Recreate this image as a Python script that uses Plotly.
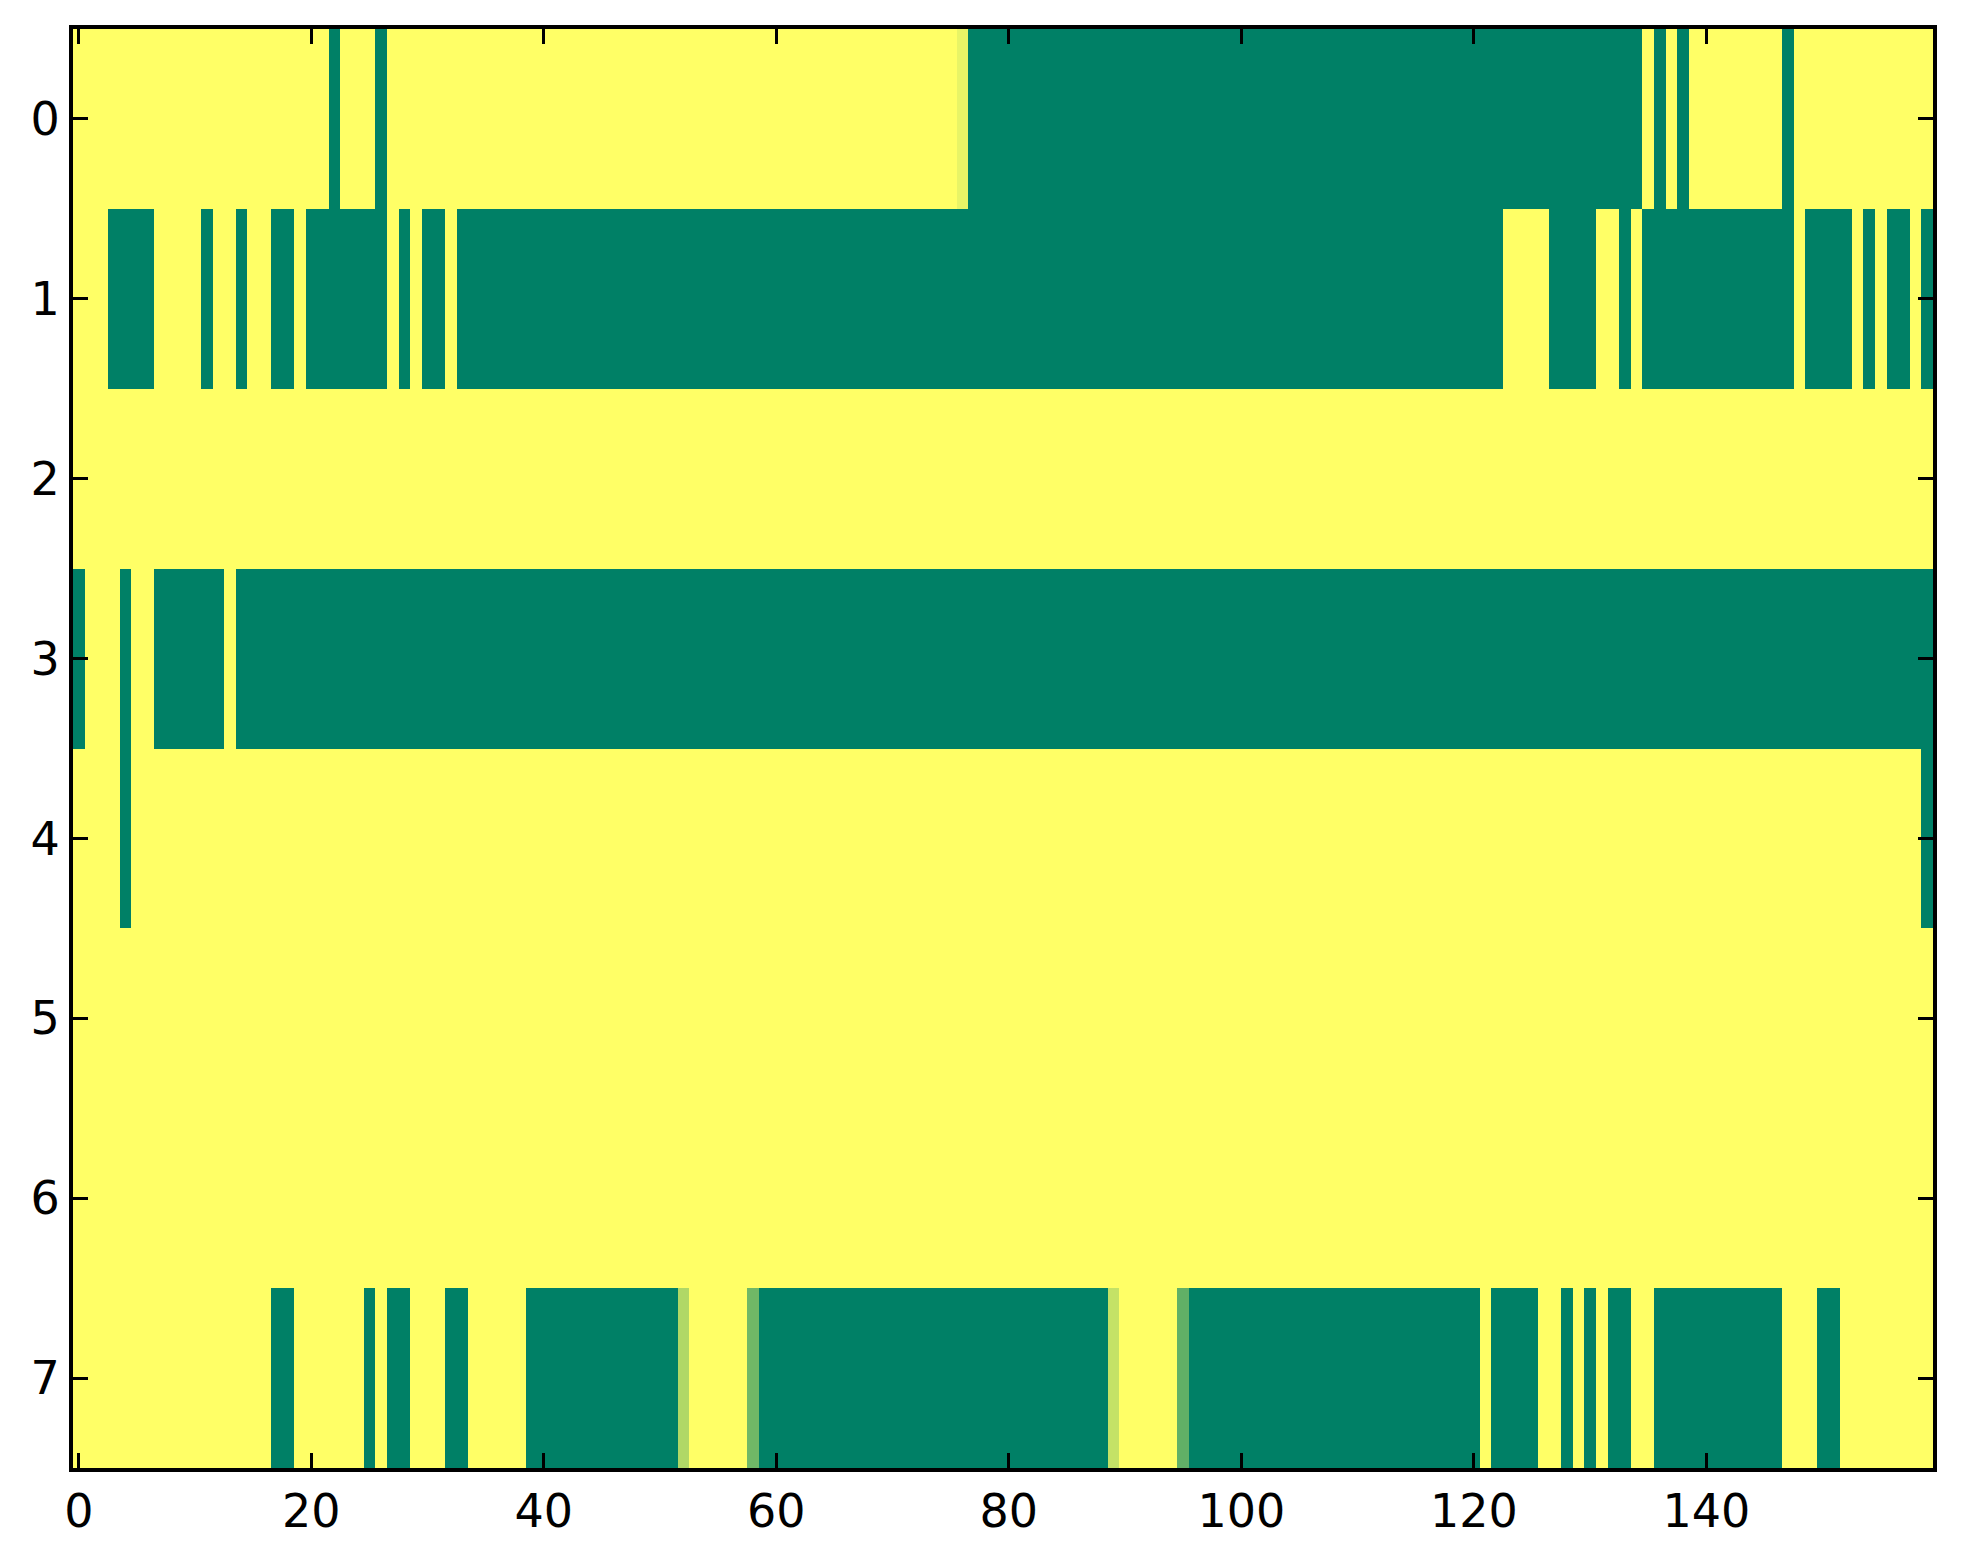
import plotly.graph_objects as go

# 8 rows x 160 columns (1 = yellow / high, 0 = green / low)
row0 = [1, 1, 1, 1, 1, 1, 1, 1, 1, 1, 1, 1, 1, 1, 1, 1, 1, 1, 1, 1,
        1, 1, 0, 1, 1, 1, 0, 1, 1, 1, 1, 1, 1, 1, 1, 1, 1, 1, 1, 1,
        1, 1, 1, 1, 1, 1, 1, 1, 1, 1, 1, 1, 1, 1, 1, 1, 1, 1, 1, 1,
        1, 1, 1, 1, 1, 1, 1, 1, 1, 1, 1, 1, 1, 1, 1, 1, 0.91, 0, 0, 0,
        0, 0, 0, 0, 0, 0, 0, 0, 0, 0, 0, 0, 0, 0, 0, 0, 0, 0, 0, 0,
        0, 0, 0, 0, 0, 0, 0, 0, 0, 0, 0, 0, 0, 0, 0, 0, 0, 0, 0, 0,
        0, 0, 0, 0, 0, 0, 0, 0, 0, 0, 0, 0, 0, 0, 0, 1, 0, 1, 0, 1,
        1, 1, 1, 1, 1, 1, 1, 0, 1, 1, 1, 1, 1, 1, 1, 1, 1, 1, 1, 1]

row1 = [1, 1, 1, 0, 0, 0, 0, 1, 1, 1, 1, 0, 1, 1, 0, 1, 1, 0, 0, 1,
        0, 0, 0, 0, 0, 0, 0, 1, 0, 1, 0, 0, 1, 0, 0, 0, 0, 0, 0, 0,
        0, 0, 0, 0, 0, 0, 0, 0, 0, 0, 0, 0, 0, 0, 0, 0, 0, 0, 0, 0,
        0, 0, 0, 0, 0, 0, 0, 0, 0, 0, 0, 0, 0, 0, 0, 0, 0, 0, 0, 0,
        0, 0, 0, 0, 0, 0, 0, 0, 0, 0, 0, 0, 0, 0, 0, 0, 0, 0, 0, 0,
        0, 0, 0, 0, 0, 0, 0, 0, 0, 0, 0, 0, 0, 0, 0, 0, 0, 0, 0, 0,
        0, 0, 0, 1, 1, 1, 1, 0, 0, 0, 0, 1, 1, 0, 1, 0, 0, 0, 0, 0,
        0, 0, 0, 0, 0, 0, 0, 0, 1, 0, 0, 0, 0, 1, 0, 1, 0, 0, 1, 0]

row2 = [1, 1, 1, 1, 1, 1, 1, 1, 1, 1, 1, 1, 1, 1, 1, 1, 1, 1, 1, 1,
        1, 1, 1, 1, 1, 1, 1, 1, 1, 1, 1, 1, 1, 1, 1, 1, 1, 1, 1, 1,
        1, 1, 1, 1, 1, 1, 1, 1, 1, 1, 1, 1, 1, 1, 1, 1, 1, 1, 1, 1,
        1, 1, 1, 1, 1, 1, 1, 1, 1, 1, 1, 1, 1, 1, 1, 1, 1, 1, 1, 1,
        1, 1, 1, 1, 1, 1, 1, 1, 1, 1, 1, 1, 1, 1, 1, 1, 1, 1, 1, 1,
        1, 1, 1, 1, 1, 1, 1, 1, 1, 1, 1, 1, 1, 1, 1, 1, 1, 1, 1, 1,
        1, 1, 1, 1, 1, 1, 1, 1, 1, 1, 1, 1, 1, 1, 1, 1, 1, 1, 1, 1,
        1, 1, 1, 1, 1, 1, 1, 1, 1, 1, 1, 1, 1, 1, 1, 1, 1, 1, 1, 1]

row3 = [0, 1, 1, 1, 0, 1, 1, 0, 0, 0, 0, 0, 0, 1, 0, 0, 0, 0, 0, 0,
        0, 0, 0, 0, 0, 0, 0, 0, 0, 0, 0, 0, 0, 0, 0, 0, 0, 0, 0, 0,
        0, 0, 0, 0, 0, 0, 0, 0, 0, 0, 0, 0, 0, 0, 0, 0, 0, 0, 0, 0,
        0, 0, 0, 0, 0, 0, 0, 0, 0, 0, 0, 0, 0, 0, 0, 0, 0, 0, 0, 0,
        0, 0, 0, 0, 0, 0, 0, 0, 0, 0, 0, 0, 0, 0, 0, 0, 0, 0, 0, 0,
        0, 0, 0, 0, 0, 0, 0, 0, 0, 0, 0, 0, 0, 0, 0, 0, 0, 0, 0, 0,
        0, 0, 0, 0, 0, 0, 0, 0, 0, 0, 0, 0, 0, 0, 0, 0, 0, 0, 0, 0,
        0, 0, 0, 0, 0, 0, 0, 0, 0, 0, 0, 0, 0, 0, 0, 0, 0, 0, 0, 0]

row4 = [1, 1, 1, 1, 0, 1, 1, 1, 1, 1, 1, 1, 1, 1, 1, 1, 1, 1, 1, 1,
        1, 1, 1, 1, 1, 1, 1, 1, 1, 1, 1, 1, 1, 1, 1, 1, 1, 1, 1, 1,
        1, 1, 1, 1, 1, 1, 1, 1, 1, 1, 1, 1, 1, 1, 1, 1, 1, 1, 1, 1,
        1, 1, 1, 1, 1, 1, 1, 1, 1, 1, 1, 1, 1, 1, 1, 1, 1, 1, 1, 1,
        1, 1, 1, 1, 1, 1, 1, 1, 1, 1, 1, 1, 1, 1, 1, 1, 1, 1, 1, 1,
        1, 1, 1, 1, 1, 1, 1, 1, 1, 1, 1, 1, 1, 1, 1, 1, 1, 1, 1, 1,
        1, 1, 1, 1, 1, 1, 1, 1, 1, 1, 1, 1, 1, 1, 1, 1, 1, 1, 1, 1,
        1, 1, 1, 1, 1, 1, 1, 1, 1, 1, 1, 1, 1, 1, 1, 1, 1, 1, 1, 0]

row5 = list(row2)
row6 = list(row2)

row7 = [1, 1, 1, 1, 1, 1, 1, 1, 1, 1, 1, 1, 1, 1, 1, 1, 1, 0, 0, 1,
        1, 1, 1, 1, 1, 0, 1, 0, 0, 1, 1, 1, 0, 0, 1, 1, 1, 1, 1, 0,
        0, 0, 0, 0, 0, 0, 0, 0, 0, 0, 0, 0, 0.69, 1, 1, 1, 1, 1, 0.44, 0,
        0, 0, 0, 0, 0, 0, 0, 0, 0, 0, 0, 0, 0, 0, 0, 0, 0, 0, 0, 0,
        0, 0, 0, 0, 0, 0, 0, 0, 0, 0.77, 1, 1, 1, 1, 1, 0.38, 0, 0, 0, 0,
        0, 0, 0, 0, 0, 0, 0, 0, 0, 0, 0, 0, 0, 0, 0, 0, 0, 0, 0, 0,
        0, 1, 0, 0, 0, 0, 1, 1, 0, 1, 0, 1, 0, 0, 1, 1, 0, 0, 0, 0,
        0, 0, 0, 0, 0, 0, 0, 1, 1, 1, 0, 0, 1, 1, 1, 1, 1, 1, 1, 1]

rows = [row0, row1, row2, row3, row4, row5, row6, row7]
columns = list(range(160))
row_index = list(range(8))

x_ticks = [0, 20, 40, 60, 80, 100, 120, 140]
y_ticks = [0, 1, 2, 3, 4, 5, 6, 7]

summer = [[0.0, "rgb(0,128,102)"], [1.0, "rgb(255,255,102)"]]

fig = go.Figure(
    go.Heatmap(
        z=rows,
        x=columns,
        y=row_index,
        colorscale=summer,
        zmin=0,
        zmax=1,
        showscale=False,
    )
)

axis_common = dict(
    showline=True,
    linecolor="black",
    linewidth=4,
    mirror="ticks",
    ticks="inside",
    ticklen=15,
    tickwidth=3,
    tickcolor="black",
    showgrid=False,
    zeroline=False,
    automargin=False,
    tickfont=dict(family="DejaVu Sans", size=46, color="black"),
)

fig.update_xaxes(
    range=[-0.5, 159.5],
    tickmode="array",
    tickvals=x_ticks,
    ticktext=[str(v) for v in x_ticks],
    ticklabelstandoff=0,
    **axis_common,
)
fig.update_yaxes(
    range=[7.5, -0.5],
    tickmode="array",
    tickvals=y_ticks,
    ticktext=[str(v) for v in y_ticks],
    ticklabelstandoff=0,
    **axis_common,
)

# page body has an 8px default margin, so the figure is shifted by 8px
fig.update_layout(
    width=1955,
    height=1556,
    margin=dict(l=65, r=30, t=21, b=96, pad=0),
    paper_bgcolor="white",
    plot_bgcolor="white",
)

fig.write_html("out.html")
